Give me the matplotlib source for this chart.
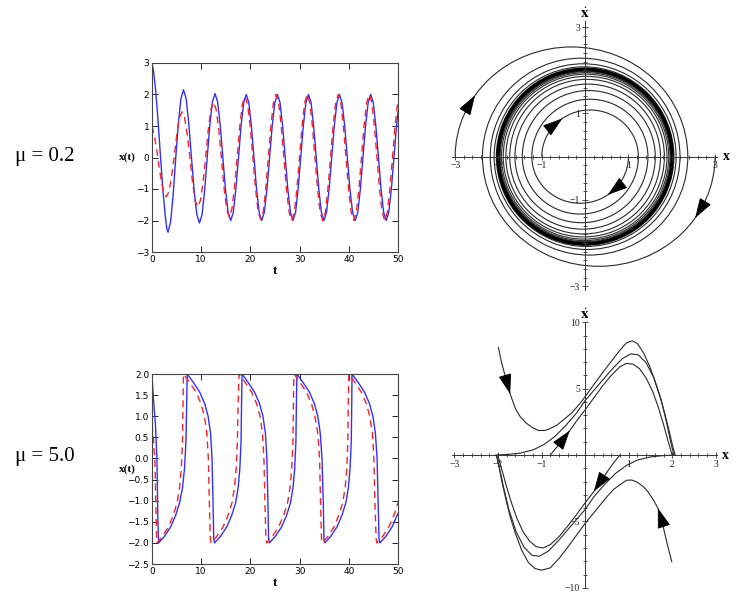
import numpy as np
import matplotlib
matplotlib.use('Agg')
import matplotlib.pyplot as plt
from matplotlib.patches import Arc

plt.rcParams['mathtext.fontset'] = 'stix'

# ---- mu = 0.2 : x(t) (t, x) ----
mu02_blue = [(0, 3.0), (0.3, 2.75), (0.7, 2.2), (1.1, 1.45), (1.5, 0.55), (1.9, -0.35), (2.3, -1.2),
             (2.7, -1.85), (3.0, -2.25), (3.25, -2.37),
             (3.78, -2.05), (4.3, -1.18), (4.83, 0), (5.35, 1.08), (5.88, 1.87), (6.4, 2.15),
             (6.94, 1.87), (7.48, 1.08), (8.02, 0), (8.57, -1.04), (9.11, -1.81), (9.65, -2.08),
             (10.18, -1.81), (10.7, -1.04), (11.22, 0), (11.75, 1.02), (12.28, 1.77), (12.8, 2.03),
             (13.33, 1.77), (13.87, 1.02), (14.4, 0), (14.93, -1.0), (15.47, -1.74), (16.0, -2.0),
             (16.53, -1.74), (17.05, -1.0), (17.58, 0), (18.1, 1.0), (18.63, 1.74), (19.15, 2.0),
             (19.68, 1.74), (20.2, 1.0), (20.73, 0), (21.25, -1.0), (21.78, -1.74), (22.3, -2.0),
             (22.83, -1.74), (23.37, -1.0), (23.9, 0), (24.43, 1.0), (24.97, 1.74), (25.5, 2.0),
             (26.03, 1.74), (26.55, 1.0), (27.08, 0), (27.6, -1.0), (28.13, -1.74), (28.65, -2.0),
             (29.18, -1.74), (29.7, -1.0), (30.23, 0), (30.75, 1.0), (31.28, 1.74), (31.8, 2.0),
             (32.33, 1.74), (32.85, 1.0), (33.38, 0), (33.9, -1.0), (34.43, -1.74), (34.95, -2.0),
             (35.48, -1.74), (36.0, -1.0), (36.53, 0), (37.05, 1.0), (37.58, 1.74), (38.1, 2.0),
             (38.63, 1.74), (39.17, 1.0), (39.7, 0), (40.23, -1.0), (40.77, -1.74), (41.3, -2.0),
             (41.83, -1.74), (42.35, -1.0), (42.88, 0), (43.4, 1.0), (43.93, 1.74), (44.45, 2.0),
             (44.98, 1.74), (45.5, 1.0), (46.03, 0), (46.55, -1.0), (47.08, -1.74), (47.6, -2.0),
             (48.13, -1.74), (48.65, -1.0), (49.18, 0), (49.7, 1.0), (50.0, 1.45)]

mu02_red = [(0, 1.0), (0.5, 0.68), (1.0, 0.2), (1.5, -0.35), (1.95, -0.8), (2.4, -1.12), (2.9, -1.25),
            (3.43, -1.09), (3.97, -0.62), (4.5, 0), (5.03, 0.72), (5.57, 1.26), (6.1, 1.45),
            (6.63, 1.26), (7.17, 0.73), (7.7, 0), (8.23, -0.78), (8.77, -1.37), (9.3, -1.57),
            (9.83, -1.37), (10.37, -0.8), (10.9, 0), (11.43, 0.88), (11.97, 1.53), (12.5, 1.76),
            (13.03, 1.53), (13.57, 0.9), (14.1, 0), (14.63, -0.94), (15.17, -1.64), (15.7, -1.89),
            (16.23, -1.64), (16.77, -0.95), (17.3, 0), (17.83, 0.97), (18.37, 1.69), (18.9, 1.94),
            (19.43, 1.69), (19.97, 0.98), (20.5, 0), (21.03, -0.98), (21.57, -1.71), (22.1, -1.97),
            (22.62, -1.71), (23.13, -0.99), (23.65, 0), (24.17, 1.0), (24.68, 1.74), (25.2, 2.0),
            (25.73, 1.74), (26.27, 1.0), (26.8, 0), (27.33, -1.0), (27.87, -1.74), (28.4, -2.0),
            (28.93, -1.74), (29.45, -1.0), (29.98, 0), (30.5, 1.0), (31.03, 1.74), (31.55, 2.0),
            (32.08, 1.74), (32.6, 1.0), (33.13, 0), (33.65, -1.0), (34.18, -1.74), (34.7, -2.0),
            (35.23, -1.74), (35.75, -1.0), (36.28, 0), (36.8, 1.0), (37.33, 1.74), (37.85, 2.0),
            (38.38, 1.74), (38.9, 1.0), (39.43, 0), (39.95, -1.0), (40.48, -1.74), (41.0, -2.0),
            (41.53, -1.74), (42.05, -1.0), (42.58, 0), (43.1, 1.0), (43.63, 1.74), (44.15, 2.0),
            (44.68, 1.74), (45.2, 1.0), (45.73, 0), (46.25, -1.0), (46.78, -1.74), (47.3, -2.0),
            (47.83, -1.74), (48.35, -1.0), (48.88, 0), (49.4, 1.0), (49.93, 1.74), (50.0, 1.8)]

# ---- mu = 5.0 : x(t) ----
mu5_blue = [(0, 1.95), (0.3, 1.4), (0.7, 0.8), (1.0, 0.0), (1.2, -1.5), (1.35, -2.0),
            (2.5, -1.85), (3.8, -1.62), (4.8, -1.35), (5.6, -1.05), (6.2, -0.7), (6.6, -0.25),
            (6.9, 0.4), (7.05, 1.3), (7.15, 2.0),
            (8.4, 1.8), (9.7, 1.57), (10.7, 1.3), (11.4, 1.0), (11.9, 0.6), (12.2, 0.0),
            (12.4, -1.0), (12.55, -1.9), (12.7, -2.0),
            (13.9, -1.85), (15.2, -1.62), (16.2, -1.35), (17.0, -1.05), (17.5, -0.7), (17.85, -0.25),
            (18.1, 0.4), (18.2, 1.3), (18.3, 2.0),
            (19.55, 1.8), (20.85, 1.57), (21.85, 1.3), (22.55, 1.0), (23.05, 0.6), (23.35, 0.0),
            (23.55, -1.0), (23.7, -1.9), (23.85, -2.0),
            (25.05, -1.85), (26.35, -1.62), (27.35, -1.35), (28.15, -1.05), (28.65, -0.7), (29.0, -0.25),
            (29.25, 0.4), (29.35, 1.3), (29.45, 2.0),
            (30.7, 1.8), (32.0, 1.57), (33.0, 1.3), (33.7, 1.0), (34.2, 0.6), (34.55, 0.0),
            (34.8, -1.0), (34.95, -1.9), (35.1, -2.0),
            (36.3, -1.85), (37.6, -1.62), (38.6, -1.35), (39.4, -1.05), (39.9, -0.7), (40.25, -0.25),
            (40.5, 0.4), (40.6, 1.3), (40.65, 2.0),
            (41.9, 1.8), (43.2, 1.57), (44.2, 1.3), (44.9, 1.0), (45.4, 0.6), (45.75, 0.0),
            (45.95, -1.0), (46.15, -1.9), (46.3, -2.0),
            (47.5, -1.85), (48.8, -1.62), (50.0, -1.3)]

mu5_red = [(0, 0.8), (0.3, 0.45), (0.6, -0.1), (0.8, -1.2), (0.95, -1.9), (1.0, -2.0),
           (2.1, -1.85), (3.35, -1.62), (4.3, -1.35), (5.1, -1.05), (5.6, -0.7), (5.95, -0.25),
           (6.2, 0.4), (6.3, 1.3), (6.4, 2.0),
           (7.65, 1.8), (8.95, 1.57), (9.95, 1.3), (10.65, 1.0), (11.15, 0.6), (11.45, 0.0),
           (11.65, -1.0), (11.85, -1.9), (12.0, -2.0),
           (13.15, -1.85), (14.45, -1.62), (15.45, -1.35), (16.25, -1.05), (16.75, -0.7), (17.1, -0.25),
           (17.35, 0.4), (17.5, 1.3), (17.7, 2.0),
           (18.95, 1.8), (20.25, 1.57), (21.25, 1.3), (21.95, 1.0), (22.45, 0.6), (22.75, 0.0),
           (22.95, -1.0), (23.15, -1.9), (23.3, -2.0),
           (24.45, -1.85), (25.75, -1.62), (26.75, -1.35), (27.55, -1.05), (28.05, -0.7), (28.4, -0.25),
           (28.65, 0.4), (28.75, 1.3), (28.85, 2.0),
           (30.1, 1.8), (31.4, 1.57), (32.4, 1.3), (33.1, 1.0), (33.7, 0.6), (34.05, 0.0),
           (34.25, -1.0), (34.45, -1.9), (34.6, -2.0),
           (35.75, -1.85), (37.0, -1.62), (37.95, -1.35), (38.75, -1.05), (39.25, -0.7), (39.6, -0.25),
           (39.8, 0.4), (39.9, 1.3), (40.0, 2.0),
           (41.25, 1.8), (42.55, 1.57), (43.55, 1.3), (44.25, 1.0), (44.8, 0.6), (45.1, 0.0),
           (45.3, -1.0), (45.55, -1.9), (45.7, -2.0),
           (46.85, -1.85), (48.15, -1.62), (49.15, -1.35), (50.0, -1.05)]

# ---- mu = 0.2 phase plane: successive x-axis crossings (|x|) and arc heights ----
inner_cross = [1.0, 1.23, 1.45, 1.62, 1.74, 1.83, 1.89, 1.93, 1.96, 1.98, 1.99]
inner_height = [1.08, 1.33, 1.53, 1.68, 1.79, 1.86, 1.91, 1.945, 1.97, 1.985]
outer_cross = [3.0, 2.37, 2.19, 2.1, 2.05, 2.03, 2.02]
outer_height = [2.54, 2.28, 2.15, 2.08, 2.05, 2.03]
cycle_w, cycle_h = 2.01, 2.02

# ---- mu = 5.0 phase plane trajectories (x, xdot) ----
traj_E = [(-1.99, 8.1), (-1.92, 7.0), (-1.83, 5.9), (-1.72, 4.6), (-1.6, 3.5), (-1.49, 2.89), (-1.35, 2.4),
          (-1.2, 2.05), (-1.07, 1.85), (-0.92, 1.85), (-0.8, 2.0), (-0.65, 2.25), (-0.5, 2.64), (-0.3, 3.2),
          (-0.1, 3.95), (0, 4.4), (0.2, 5.3), (0.4, 6.2), (0.6, 7.05), (0.8, 7.9), (0.95, 8.45), (1.08, 8.6),
          (1.2, 8.4), (1.34, 7.7), (1.48, 6.7), (1.6, 5.6), (1.72, 4.4), (1.83, 3.1), (1.93, 1.8), (2.0, 0.8),
          (2.05, 0.2), (2.07, 0), (1.8, -0.04), (1.5, -0.14), (1.2, -0.38), (0.95, -0.78), (0.7, -1.38),
          (0.45, -2.2), (0.2, -3.15), (0, -4.1), (-0.3, -5.25), (-0.6, -6.4), (-0.85, -7.25), (-1.05, -7.62),
          (-1.22, -7.55), (-1.4, -6.95), (-1.58, -5.8), (-1.75, -4.1), (-1.88, -2.3), (-1.97, -0.9),
          (-2.03, -0.1), (-2.05, 0)]
traj_G = [(1.99, -8.04), (1.9, -6.9), (1.82, -5.8), (1.76, -4.9), (1.67, -4.0), (1.57, -3.39), (1.45, -2.8),
          (1.34, -2.39), (1.2, -2.05), (1.07, -1.88), (0.95, -1.9), (0.84, -2.14), (0.65, -2.6), (0.5, -3.14),
          (0.3, -3.95), (0.1, -4.75), (0, -5.15), (-0.2, -6.05), (-0.4, -6.95), (-0.6, -7.8), (-0.8, -8.5),
          (-1.0, -8.67), (-1.15, -8.55), (-1.3, -8.1), (-1.45, -7.2), (-1.6, -5.9), (-1.72, -4.65),
          (-1.82, -3.3), (-1.91, -2.0), (-1.98, -0.8), (-2.02, -0.15), (-2.04, 0), (-1.8, 0.04), (-1.5, 0.14),
          (-1.2, 0.38), (-0.95, 0.78), (-0.7, 1.38), (-0.45, 2.2), (-0.2, 3.15), (0, 4.1), (0.3, 5.25),
          (0.6, 6.4), (0.85, 7.25), (1.05, 7.62), (1.22, 7.55), (1.4, 6.95), (1.58, 5.8), (1.75, 4.1),
          (1.88, 2.3), (1.97, 0.9), (2.03, 0.1), (2.05, 0)]
traj_F = [(-0.8, 0), (-0.65, 0.6), (-0.5, 1.2), (-0.35, 1.85), (-0.2, 2.55), (0, 3.4), (0.2, 4.3), (0.4, 5.2),
          (0.6, 6.0), (0.8, 6.65), (0.95, 6.9), (1.1, 6.85), (1.25, 6.5), (1.4, 5.8), (1.55, 4.8), (1.68, 3.6),
          (1.8, 2.3), (1.9, 1.1), (1.97, 0.3), (2.0, 0)]
traj_H = [(0.8, 0), (0.65, -0.6), (0.5, -1.3), (0.35, -2.0), (0.2, -2.75), (0, -3.6), (-0.2, -4.5),
          (-0.4, -5.35), (-0.6, -6.15), (-0.8, -6.75), (-0.97, -7.0), (-1.12, -6.9), (-1.27, -6.5),
          (-1.42, -5.8), (-1.56, -4.8), (-1.69, -3.6), (-1.81, -2.3), (-1.91, -1.1), (-1.98, -0.3), (-2.01, 0)]

PH = '#2a2a2a'

fig = plt.figure(figsize=(7.5, 6.02), dpi=100)


def series_axes(ax, data_b, data_r, ylim, yticks, ylabels):
    tb, xb = np.array(data_b).T
    tr, xr = np.array(data_r).T
    ax.plot(tb, xb, color='#3030ff', lw=1.0)
    ax.plot(tr, xr, color='#ff2020', lw=1.0, dashes=(5, 3.5))
    ax.set_xlim(0, 50)
    ax.set_ylim(*ylim)
    ax.set_xticks([0, 10, 20, 30, 40, 50])
    ax.set_yticks(yticks, labels=ylabels)
    ax.tick_params(direction='in', top=True, right=True, labelsize=6.5, length=4, width=0.6, pad=2)
    for s in ax.spines.values():
        s.set_linewidth(0.8)
        s.set_color('#444444')
    ax.set_xlabel('t', family='Liberation Serif', fontweight='bold', fontsize=9, labelpad=1)
    ax.set_ylabel('x(t)', family='Liberation Serif', fontweight='bold', fontsize=8, rotation=0,
                  ha='right', va='center')
    ax.yaxis.set_label_coords(-0.065, 0.5)


ax1 = fig.add_axes([152 / 750, 1 - 252 / 602, 246 / 750, 189 / 602])
series_axes(ax1, mu02_blue, mu02_red, (-3, 3), [-3, -2, -1, 0, 1, 2, 3],
            ['\u22123', '\u22122', '\u22121', '0', '1', '2', '3'])

ax2 = fig.add_axes([152 / 750, 1 - 564 / 602, 246 / 750, 190 / 602])
series_axes(ax2, mu5_blue, mu5_red, (-2.5, 2.0), [-2.5, -2.0, -1.5, -1.0, -0.5, 0, 0.5, 1.0, 1.5, 2.0],
            ['\u22122.5', '\u22122.0', '\u22121.5', '\u22121.0', '\u22120.5', '0.0', '0.5', '1.0', '1.5', '2.0'])

fig.text(15 / 750, 1 - 157 / 602, '\u03bc = 0.2', family='Liberation Serif', fontsize=15, va='center')
fig.text(15 / 750, 1 - 457 / 602, '\u03bc = 5.0', family='Liberation Serif', fontsize=15, va='center')


def phase_axes(ax, xlim, ylim, xb, yb, ymajor, ylabels, yminor):
    ax.set_xlim(*xlim)
    ax.set_ylim(*ylim)
    ax.patch.set_visible(False)
    for s in ['top', 'right']:
        ax.spines[s].set_visible(False)
    for s in ['left', 'bottom']:
        ax.spines[s].set_position(('data', 0))
        ax.spines[s].set_linewidth(0.7)
        ax.spines[s].set_color('#333333')
    ax.spines['bottom'].set_bounds(*xb)
    ax.spines['left'].set_bounds(*yb)
    ax.set_xticks([-3, -2, -1, 1, 2, 3], labels=['\u22123', '\u22122', '\u22121', '1', '2', '3'])
    ax.set_xticks(np.arange(-3, 3.01, 0.2), minor=True)
    ax.set_yticks(ymajor, labels=ylabels)
    ax.set_yticks(yminor, minor=True)
    ax.tick_params(which='both', direction='inout', width=0.6, color='#333333', labelcolor='#222222',
                   labelsize=7, labelfontfamily='Liberation Serif', pad=1)
    ax.tick_params(which='major', length=5)
    ax.tick_params(which='minor', length=2.5)
    ax.text(xb[1] + 0.12, 0, 'x', family='Liberation Serif', fontweight='bold', fontsize=10,
            ha='left', va='center')
    ax.text(0, yb[1], r'$\dot{\mathbf{x}}$', fontsize=11, ha='center', va='bottom')


def arrow(ax, tail, tip):
    ax.annotate('', xy=tip, xytext=tail,
                arrowprops=dict(arrowstyle='-|>,head_length=0.8,head_width=0.26', mutation_scale=16,
                                color='k', lw=0.6, shrinkA=0, shrinkB=0), zorder=5)


def spiral(ax, cross, heights, sign):
    # clockwise trajectory made of half-turns between x-axis crossings
    arcs = []
    for i in range(len(cross) - 1):
        x0 = sign * cross[i]
        x1 = -sign * cross[i + 1]
        cx, w = (x0 + x1) / 2, abs(x0 - x1)
        t1, t2 = (180, 360) if sign > 0 else (0, 180)
        ax.add_patch(Arc((cx, 0), w, 2 * heights[i], theta1=t1, theta2=t2, color=PH, lw=0.8))
        arcs.append((cx, w / 2, heights[i]))
        sign = -sign
    return arcs


def arc_arrow(ax, arc, phi):
    cx, a, b = arc
    p = np.radians(phi)
    q = np.radians(phi + 8)
    arrow(ax, (cx + a * np.cos(q), b * np.sin(q)), (cx + a * np.cos(p), b * np.sin(p)))


ax3 = fig.add_axes([440 / 750, 1 - 300 / 602, 295 / 750, 285 / 602])
phase_axes(ax3, (-3.35, 3.46), (-3.32, 3.28), (-3.08, 3.05), (-3.1, 3.15),
           [-3, -2, -1, 1, 2, 3], ['\u22123', '', '\u22121', '1', '', '3'], np.arange(-3, 3.01, 0.2))
arcs_a = spiral(ax3, inner_cross, inner_height, 1)
arcs_b = spiral(ax3, inner_cross, inner_height, -1)
arcs_c = spiral(ax3, outer_cross, outer_height, -1)
arcs_d = spiral(ax3, outer_cross, outer_height, 1)
ax3.add_patch(Arc((0, 0), 2 * cycle_w, 2 * cycle_h, theta1=0, theta2=360, color='k', lw=2.4))
arc_arrow(ax3, arcs_a[0], 305)
arc_arrow(ax3, arcs_b[0], 125)
arc_arrow(ax3, arcs_c[0], 146)
arc_arrow(ax3, arcs_d[0], 326)

ax4 = fig.add_axes([440 / 750, 1 - 595 / 602, 295 / 750, 290 / 602])
phase_axes(ax4, (-3.33, 3.44), (-10.54, 11.3), (-3.05, 3.03), (-10.0, 10.0),
           [-10, -5, 5, 10], ['\u221210', '\u22125', '5', '10'], np.arange(-10, 10.5, 1))
for tr in [traj_E, traj_G, traj_F, traj_H]:
    xs, ys = np.array(tr).T
    ax4.plot(xs, ys, color=PH, lw=0.8)
arrow(ax4, traj_E[2], traj_E[3])
arrow(ax4, traj_G[3], traj_G[4])
arrow(ax4, traj_F[2], traj_F[3])
arrow(ax4, traj_H[3], traj_H[4])

fig.savefig('out.png', dpi=100)
